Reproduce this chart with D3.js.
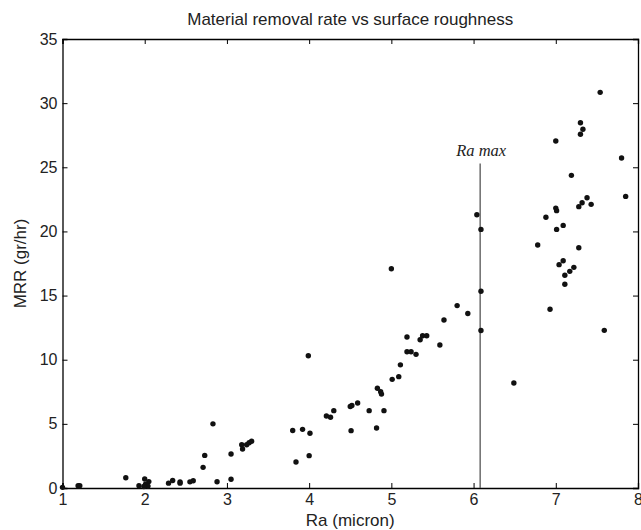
<!DOCTYPE html>
<html>
<head>
<meta charset="utf-8">
<script src="https://cdn.jsdelivr.net/npm/d3@7"></script>
<style>
	body { margin: 0; background: #fff; }
	#chart { width: 641px; height: 530px; }
	.axis text { font-family: "Liberation Sans", Arial, sans-serif; font-size: 16px; fill: #222; }
	.axis path, .axis line { stroke: #000; }
</style>
</head>
<body>
<div id="chart"></div>
<script>

// Ra (micron) of each sample
const raValues = [
	1.00, 1.19, 1.21, 1.77, 1.93, 2.00, 2.05, 2.01, 2.04, 1.99,
	2.29, 2.34, 2.43, 2.43, 2.55, 2.59, 2.71, 2.73, 2.83, 2.88,
	3.05, 3.05, 3.18, 3.19, 3.24, 3.27, 3.30, 3.80, 3.84, 3.92,
	4.00, 4.01, 3.99, 4.21, 4.26, 4.30, 4.50, 4.52, 4.51, 4.59,
	4.73, 4.82, 4.83, 4.87, 4.88, 4.91, 5.00, 5.01, 5.09, 5.11,
	5.19, 5.19, 5.24, 5.30, 5.35, 5.38, 5.43, 5.59, 5.64, 5.80,
	5.93, 6.04, 6.09, 6.09, 6.09, 6.49, 6.78, 6.88, 6.93, 7.00,
	7.00, 7.01, 7.01, 7.04, 7.09, 7.09, 7.11, 7.11, 7.17, 7.19,
	7.22, 7.28, 7.28, 7.30, 7.30, 7.32, 7.33, 7.38, 7.43, 7.54,
	7.59, 7.80, 7.85
];

// MRR (gr/hr) of each sample
const mrrValues = [
	0.05, 0.18, 0.18, 0.80, 0.18, 0.70, 0.50, 0.30, 0.15, 0.12,
	0.38, 0.58, 0.48, 0.38, 0.48, 0.57, 1.61, 2.54, 5.00, 0.49,
	2.65, 0.68, 3.37, 3.04, 3.37, 3.53, 3.64, 4.48, 2.03, 4.57,
	2.52, 4.27, 10.31, 5.61, 5.51, 6.03, 6.35, 6.43, 4.47, 6.63,
	6.03, 4.68, 7.77, 7.50, 7.32, 6.03, 17.09, 8.47, 8.68, 9.60,
	11.77, 10.62, 10.62, 10.42, 11.56, 11.87, 11.87, 11.15, 13.09, 14.22,
	13.60, 21.30, 20.16, 15.34, 12.28, 8.18, 18.94, 21.10, 13.93, 27.05,
	21.82, 21.62, 20.16, 17.41, 17.72, 20.47, 16.58, 15.88, 16.89, 24.37,
	17.20, 18.73, 21.93, 28.47, 27.57, 22.24, 27.96, 22.63, 22.11, 30.84,
	12.29, 25.72, 22.73
];

const xTicks = [1, 2, 3, 4, 5, 6, 7, 8];
const yTicks = [0, 5, 10, 15, 20, 25, 30, 35];

// limit line
const raMax = 6.08;
const raMaxTop = 25.3;

const chartTitle = "Material removal rate vs surface roughness";
const xLabel = "Ra (micron)";
const yLabel = "MRR (gr/hr)";

class Scatter {

	constructor(parentElement) {
		this.parentElement = parentElement;
		this.data = raValues.map((d, i) => ({ra: d, mrr: mrrValues[i]}));
		this.initVis();
	}

	initVis() {
		let vis = this;

		vis.margin = {top: 39, right: 3, bottom: 42, left: 62.5};
		vis.width = 641 - vis.margin.left - vis.margin.right;
		vis.height = 530 - vis.margin.top - vis.margin.bottom;

		vis.svg = d3.select(vis.parentElement).append("svg")
			.attr("width", 641)
			.attr("height", 530)
			.append("g")
			.attr("transform", "translate(" + vis.margin.left + "," + vis.margin.top + ")");

		// Scales
		vis.x = d3.scaleLinear().domain([1, 8]).range([0, vis.width]);
		vis.y = d3.scaleLinear().domain([0, 35]).range([vis.height, 0]);

		// Axes, ticks pointing inside the box
		vis.svg.append("g")
			.attr("class", "axis")
			.attr("transform", "translate(0," + vis.height + ")")
			.call(d3.axisBottom(vis.x).tickValues(xTicks).tickSize(-5).tickPadding(6).tickFormat(d3.format("d")));

		vis.svg.append("g")
			.attr("class", "axis")
			.call(d3.axisLeft(vis.y).tickValues(yTicks).tickSize(-5).tickPadding(5).tickFormat(d3.format("d")));

		vis.svg.append("g")
			.attr("class", "axis")
			.call(d3.axisTop(vis.x).tickValues(xTicks).tickSize(-5).tickFormat(""));

		vis.svg.append("g")
			.attr("class", "axis")
			.attr("transform", "translate(" + vis.width + ",0)")
			.call(d3.axisRight(vis.y).tickValues(yTicks).tickSize(-5).tickFormat(""));

		vis.svg.selectAll(".axis .domain").attr("stroke-width", 1.3);

		// Ra max line
		vis.svg.append("line")
			.attr("x1", vis.x(raMax))
			.attr("x2", vis.x(raMax))
			.attr("y1", vis.y(raMaxTop))
			.attr("y2", vis.y(0))
			.attr("stroke", "#555")
			.attr("stroke-width", 1.3);

		vis.svg.append("text")
			.attr("x", vis.x(raMax) + 1)
			.attr("y", vis.y(raMaxTop) - 7)
			.attr("text-anchor", "middle")
			.attr("font-family", "'Liberation Serif', 'Times New Roman', serif")
			.attr("font-style", "italic")
			.attr("font-size", 16.5)
			.attr("fill", "#222")
			.text("Ra max");

		// Points
		vis.svg.append("g")
			.selectAll("circle")
			.data(vis.data)
			.enter().append("circle")
			.attr("cx", d => vis.x(d.ra))
			.attr("cy", d => vis.y(d.mrr))
			.attr("r", 2.7)
			.attr("fill", "#111");

		// Title and labels
		vis.svg.append("text")
			.attr("x", vis.width / 2)
			.attr("y", -14)
			.attr("text-anchor", "middle")
			.attr("font-family", "'Liberation Sans', Arial, sans-serif")
			.attr("font-size", 17)
			.attr("fill", "#222")
			.text(chartTitle);

		vis.svg.append("text")
			.attr("x", vis.width / 2)
			.attr("y", vis.height + 38)
			.attr("text-anchor", "middle")
			.attr("font-family", "'Liberation Sans', Arial, sans-serif")
			.attr("font-size", 17)
			.attr("fill", "#222")
			.text(xLabel);

		vis.svg.append("text")
			.attr("transform", "translate(-37," + (vis.height / 2) + ") rotate(-90)")
			.attr("text-anchor", "middle")
			.attr("font-family", "'Liberation Sans', Arial, sans-serif")
			.attr("font-size", 17)
			.attr("fill", "#222")
			.text(yLabel);
	}
}

new Scatter(document.getElementById("chart"));

</script>
</body>
</html>
